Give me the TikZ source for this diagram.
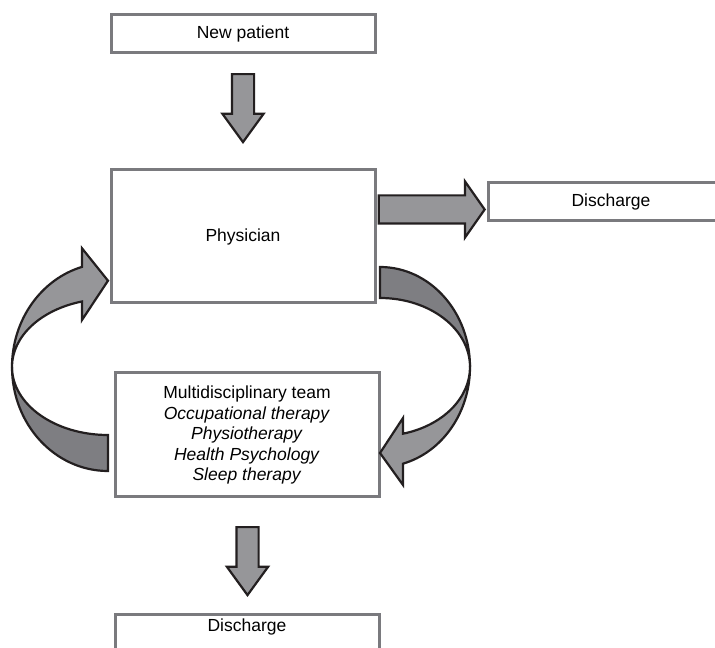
\documentclass[tikz,border=0pt]{standalone}
\usepackage{fontspec}
\setmainfont{Liberation Sans}
\usetikzlibrary{shapes.arrows}
\definecolor{boxgray}{RGB}{122,122,126}
\definecolor{arrowfill}{RGB}{150,150,153}
\definecolor{arrowback}{RGB}{126,126,130}
\definecolor{arrowline}{RGB}{35,31,32}

\begin{document}
\begin{tikzpicture}[x=1pt, y=1pt,
    stage/.style={rectangle, draw=boxgray, line width=3pt, fill=white, inner sep=0pt, minimum width=264pt, font=\fontsize{17.5}{20.5}\selectfont, align=center},
    flow/.style={single arrow, draw=arrowline, fill=arrowfill, line width=2.2pt, inner xsep=0pt, inner ysep=10pt, minimum width=39pt, single arrow head extend=9.5pt, single arrow tip angle=72, minimum height=68pt},
    front/.style={draw=arrowline, fill=arrowfill, line width=2.2pt},
    back/.style={draw=arrowline, fill=arrowback, line width=2.2pt}
]
\useasboundingbox (0,0) rectangle (715,648);

\node[stage, minimum height=38pt] (patient) at (243,614.5) {New patient};
\node[stage, minimum height=133pt] (physician) at (243,411.5) {Physician};
\node[stage, minimum width=246pt, minimum height=38pt] (discharge) at (611,446) {Discharge};
\node[stage, minimum height=124pt] (team) at (247,213) {Multidisciplinary team\\ \textit{Occupational therapy}\\ \textit{Physiotherapy}\\ \textit{Health Psychology}\\ \textit{Sleep therapy}};
\node[stage, anchor=north, text height=12.6pt, text depth=30pt, inner ysep=4pt] (exit) at (247,35) {Discharge};

\node[flow, rotate=-90, anchor=tip] (admit) at (243,504) {};
\node[flow, inner ysep=13pt, minimum width=54pt, single arrow head extend=14pt, single arrow tip angle=110, minimum height=106pt, anchor=tip] (release) at (486,438.5) {};
\node[flow, rotate=-90, anchor=tip] (finish) at (247.5,51) {};

% back to the physician
\draw[back] (108,177) arc[start angle=270, end angle=180, x radius=96, y radius=104]
  arc[start angle=180, end angle=270, x radius=96, y radius=68] -- cycle;
\draw[front] (12,281) arc[start angle=180, end angle=105.7, x radius=96, y radius=104]
  -- (82,399.7) -- (108,367.3) -- (82,328) -- (82,346.5)
  arc[start angle=105.7, end angle=180, x radius=96, y radius=68] -- cycle;

% on to the team
\draw[back] (380,381) arc[start angle=90, end angle=0, x radius=90, y radius=100]
  arc[start angle=0, end angle=90, x radius=90, y radius=69] -- cycle;
\draw[front] (470,281) arc[start angle=0, end angle=-75.2, x radius=90, y radius=100]
  -- (403,163) -- (380,195) -- (403,230) -- (403,214.3)
  arc[start angle=-75.2, end angle=0, x radius=90, y radius=69] -- cycle;
\end{tikzpicture}
\end{document}
